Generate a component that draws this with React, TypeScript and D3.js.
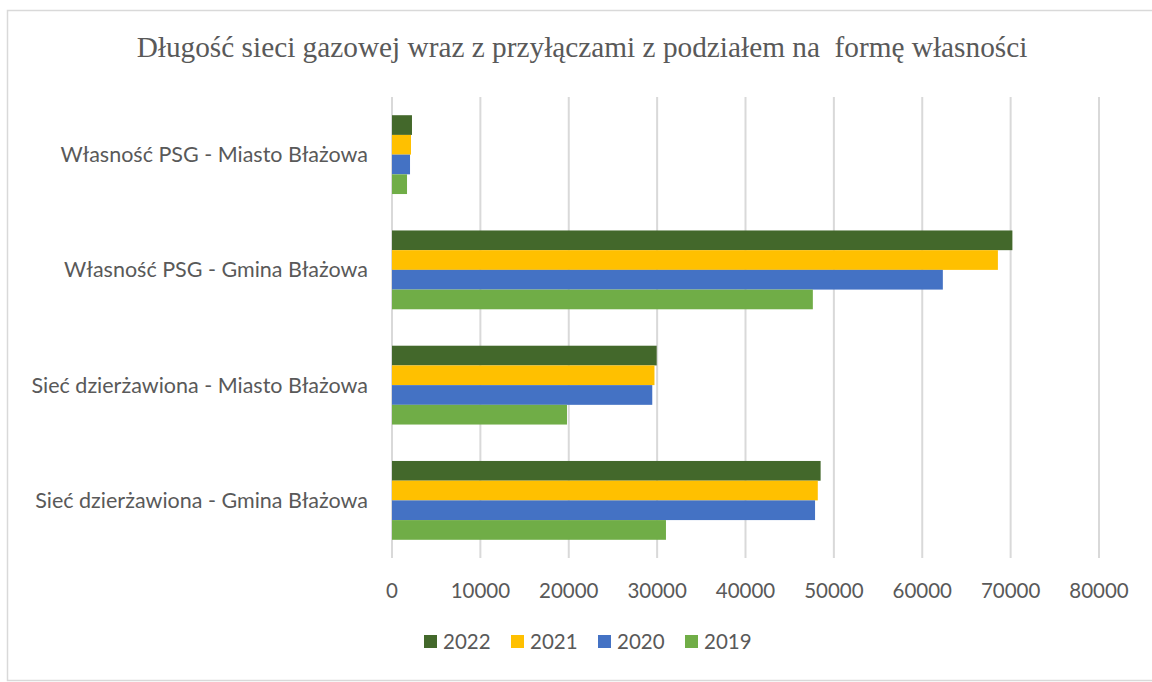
import React from "react";
import * as d3 from "d3";

const categories = [
  "Własność PSG - Miasto Błażowa",
  "Własność PSG - Gmina Błażowa",
  "Sieć dzierżawiona - Miasto Błażowa",
  "Sieć dzierżawiona - Gmina Błażowa",
];
const years = ["2022", "2021", "2020", "2019"];
const values2022 = [2260, 70200, 29950, 48500];
const values2021 = [2150, 68560, 29700, 48180];
const values2020 = [2040, 62330, 29450, 47870];
const values2019 = [1700, 47620, 19800, 31000];
const xTicks = [0, 10000, 20000, 30000, 40000, 50000, 60000, 70000, 80000];
const colors = ["#43682B", "#FFC000", "#4472C4", "#70AD47"];
const title = "Długość sieci gazowej wraz z przyłączami z podziałem na  formę własności";

const seriesValues = [values2022, values2021, values2020, values2019];

export default function App() {
  const W = 1152;
  const H = 682;
  const left = 392;
  const right = 1099;
  const top = 97;
  const bottom = 558;
  const gap = 0.316;

  const x = d3.scaleLinear().domain([0, 80000]).range([left, right]);
  const y0 = d3
    .scaleBand<string>()
    .domain(categories)
    .range([top, bottom])
    .paddingInner(gap)
    .paddingOuter(gap / 2);
  const y1 = d3.scaleBand<string>().domain(years).range([0, y0.bandwidth()]);

  const textColor = "#595959";
  const sans = "Lato, 'Liberation Sans', sans-serif";

  const legendX = d3.scaleBand<string>().domain(years).range([424, 772]);

  return (
    <svg
      width={W}
      height={H}
      style={{ position: "absolute", left: 0, top: 0, background: "#fff" }}
    >
      <rect x={0} y={0} width={W} height={H} fill="#fff" />
      <rect x={7.5} y={10.5} width={W} height={670} fill="#fff" stroke="#d9d9d9" strokeWidth={1.5} />
      <text
        x={582}
        y={57}
        textAnchor="middle"
        fill={textColor}
        fontFamily="'Liberation Serif', 'Times New Roman', serif"
        fontSize={29.3}
        style={{ whiteSpace: "pre" }}
      >
        {title}
      </text>
      {xTicks.map((t) => (
        <line key={"g" + t} x1={x(t)} x2={x(t)} y1={top} y2={bottom} stroke="#d9d9d9" strokeWidth={2} />
      ))}
      {categories.map((c, ci) => (
        <g key={c}>
          {years.map((yr, si) => (
            <rect
              key={yr}
              x={x(0)}
              y={(y0(c) as number) + (y1(yr) as number)}
              width={x(seriesValues[si][ci]) - x(0)}
              height={y1.bandwidth()}
              fill={colors[si]}
            />
          ))}
          <text
            x={368}
            y={(y0(c) as number) + y0.bandwidth() / 2}
            dy="0.35em"
            textAnchor="end"
            fill={textColor}
            fontFamily={sans}
            fontSize={21.5}
          >
            {c}
          </text>
        </g>
      ))}
      {xTicks.map((t) => (
        <text
          key={"t" + t}
          x={x(t)}
          y={598}
          textAnchor="middle"
          fill={textColor}
          fontFamily={sans}
          fontSize={20.5}
        >
          {t}
        </text>
      ))}
      {years.map((yr, i) => (
        <g key={"l" + yr} transform={`translate(${legendX(yr)},0)`}>
          <rect x={0} y={635} width={13} height={13} fill={colors[i]} />
          <text x={19} y={649} fill={textColor} fontFamily={sans} fontSize={20.5}>
            {yr}
          </text>
        </g>
      ))}
    </svg>
  );
}
